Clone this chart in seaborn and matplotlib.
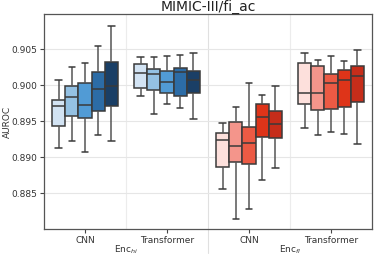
import numpy as np
import pandas as pd
import matplotlib
matplotlib.use("Agg")
import matplotlib.pyplot as plt
import matplotlib.transforms as mtransforms
import seaborn as sns

# five-number summaries: (low whisker, q1, median, q3, high whisker)
hi_cnn = [(0.89130, 0.89426, 0.89713, 0.89792, 0.90079),
          (0.89222, 0.89569, 0.89838, 0.89986, 0.90255),
          (0.89074, 0.89546, 0.89727, 0.90028, 0.90310),
          (0.89301, 0.89648, 0.89949, 0.90185, 0.90551),
          (0.89222, 0.89704, 0.89986, 0.90324, 0.90819)]
hi_trf = [(0.89856, 0.89958, 0.90171, 0.90301, 0.90398),
          (0.89593, 0.89940, 0.90153, 0.90231, 0.90389),
          (0.89741, 0.89898, 0.90042, 0.90199, 0.90407),
          (0.89690, 0.89852, 0.90190, 0.90241, 0.90417),
          (0.89528, 0.89894, 0.90079, 0.90204, 0.90449)]
fl_cnn = [(0.88551, 0.88866, 0.89236, 0.89329, 0.89481),
          (0.88144, 0.88926, 0.89157, 0.89486, 0.89699),
          (0.88273, 0.88903, 0.89194, 0.89412, 0.90037),
          (0.88681, 0.89282, 0.89560, 0.89741, 0.89861),
          (0.88847, 0.89269, 0.89458, 0.89644, 0.89991)]
fl_trf = [(0.89403, 0.89745, 0.89889, 0.90315, 0.90444),
          (0.89301, 0.89653, 0.89898, 0.90269, 0.90352),
          (0.89343, 0.89667, 0.90028, 0.90153, 0.90407),
          (0.89324, 0.89694, 0.90069, 0.90218, 0.90338),
          (0.89185, 0.89773, 0.90125, 0.90269, 0.90495)]

groups = ["hi_CNN", "hi_Transformer", "fl_CNN", "fl_Transformer"]
tick_labels = ["CNN", "Transformer", "CNN", "Transformer"]
enc_labels = [r"Enc$_{hi}$", r"Enc$_{fl}$"]
levels = ["1", "2", "3", "4", "5"]
blues = ["#d2e3f3", "#94c1e3", "#519bd5", "#2c6ca6", "#1a3f66"]
reds = ["#fde0dc", "#f4958b", "#ec5a44", "#de3419", "#c62d1a"]


def to_frame(group, stats):
    rows = []
    for lvl, vals in zip(levels, stats):
        for v in vals:
            rows.append({"group": group, "level": lvl, "AUROC": v})
    return pd.DataFrame(rows)


df_hi = pd.concat([to_frame(groups[0], hi_cnn), to_frame(groups[1], hi_trf)])
df_fl = pd.concat([to_frame(groups[2], fl_cnn), to_frame(groups[3], fl_trf)])

sns.set_style("ticks")
plt.rcParams["font.family"] = ["DejaVu Sans"]

fig = plt.figure(figsize=(3.74, 2.59), dpi=100)
ax = fig.add_axes([0.1176, 0.1158, 0.877, 0.830])

box_kw = dict(x="group", y="AUROC", hue="level", order=groups, hue_order=levels,
              whis=np.inf, saturation=1, width=0.8, linewidth=1.1,
              linecolor="#3a3a3a", legend=False, ax=ax,
              whiskerprops=dict(color="#555555"))
sns.boxplot(data=df_hi, palette=blues, **box_kw)
sns.boxplot(data=df_fl, palette=reds, **box_kw)

ax.set_xlim(-0.5, 3.5)
ax.set_ylim(0.880, 0.9099)
ax.set_yticks([0.885, 0.890, 0.895, 0.900, 0.905])
ax.set_yticklabels(["0.885", "0.890", "0.895", "0.900", "0.905"])
ax.set_xticks(range(4))
ax.set_xticklabels(tick_labels)
ax.tick_params(labelsize=6.5, length=3, width=0.8, color="#444444", pad=2,
               labelcolor="#333333")
ax.yaxis.grid(True, color="#e6e6e6", linewidth=0.8)
ax.set_axisbelow(True)
for xv in [0.5, 2.5]:
    ax.axvline(xv, color="#ececec", linewidth=0.8, zorder=0)

# separator between the two encoder groups, running down through the labels
trans = mtransforms.blended_transform_factory(ax.transData, ax.transAxes)
ax.plot([1.5, 1.5], [1.0, -0.11], transform=trans, color="#e0e0e0",
        linewidth=0.8, clip_on=False, zorder=0)

for xv, lab in zip([0.5, 2.5], enc_labels):
    ax.text(xv, -0.097, lab, transform=trans, ha="center", va="center",
            fontsize=6.5, color="#333333")

for sp in ax.spines.values():
    sp.set_visible(True)
    sp.set_color("#555555")
    sp.set_linewidth(0.9)

ax.set_xlabel("")
ax.set_ylabel("AUROC", fontsize=6.5, color="#333333")
ax.yaxis.set_label_coords(-0.098, 0.5)
ax.set_title("MIMIC-III/fi_ac", fontsize=10, pad=0.5, color="#222222")

fig.savefig("out.png", dpi=100)
